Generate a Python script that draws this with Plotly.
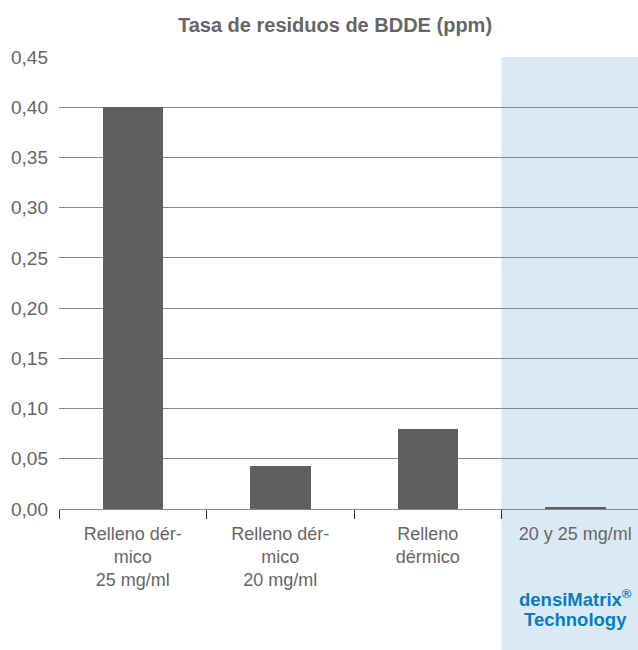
import plotly.graph_objects as go

categories = ["Relleno dér-<br>mico<br>25 mg/ml", "Relleno dér-<br>mico<br>20 mg/ml",
              "Relleno<br>dérmico", "20 y 25 mg/ml"]
values = [0.40, 0.043, 0.08, 0.002]
y_ticks = [0.0, 0.05, 0.10, 0.15, 0.20, 0.25, 0.30, 0.35, 0.40, 0.45]
title_text = "Tasa de residuos de BDDE (ppm)"
highlight_lines = ["densiMatrix<sup>®</sup>", "Technology"]

FONT = "Liberation Sans, Arial, Helvetica, sans-serif"
x_range = [-0.5, 3.425]
highlight_start = 2.5

fig = go.Figure(go.Bar(
    x=categories, y=values,
    marker=dict(color="#5f5f5f", line=dict(width=0)),
    width=0.41,
))

x0_paper = (highlight_start - x_range[0]) / (x_range[1] - x_range[0])
fig.add_shape(type="rect", xref="paper", yref="paper",
              x0=x0_paper, x1=1.2, y0=-0.5, y1=1,
              fillcolor="#dbe9f4", line=dict(width=0), layer="below")

fig.add_annotation(xref="x", yref="paper", x=3, y=-0.197, text="<b>" + highlight_lines[0] + "</b>",
                   showarrow=False, font=dict(family=FONT, size=18.5, color="#0a7cc2"), yanchor="middle")
fig.add_annotation(xref="x", yref="paper", x=3, y=-0.245, text="<b>" + highlight_lines[1] + "</b>",
                   showarrow=False, font=dict(family=FONT, size=18.5, color="#0a7cc2"), yanchor="middle")

fig.update_layout(
    width=638, height=650,
    margin=dict(l=59, r=0, t=57, b=141),
    paper_bgcolor="white", plot_bgcolor="rgba(0,0,0,0)",
    separators=",.",
    showlegend=False,
    bargap=0,
    title=dict(text="<b>" + title_text + "</b>", x=335 / 638, xref="container", xanchor="center",
               y=1 - 25 / 650, yref="container", yanchor="middle",
               font=dict(family=FONT, size=20, color="#666666")),
    font=dict(family=FONT, color="#666666"),
)
fig.update_xaxes(
    type="category", range=x_range,
    tickson="boundaries", ticks="outside", ticklen=9, tickcolor="#333333", tickwidth=1,
    showline=True, linecolor="#888888", linewidth=1, showgrid=False,
    ticklabelstandoff=8,
    tickfont=dict(family=FONT, size=18, color="#666666"), automargin=False, fixedrange=True,
)
fig.update_yaxes(
    range=[0, 0.45], tickmode="array", tickvals=y_ticks, tickformat=".2f",
    showgrid=True, gridcolor="#888888", gridwidth=1, zeroline=False, showline=False,
    ticks="", ticklabelstandoff=10,
    tickfont=dict(family=FONT, size=19, color="#666666"), automargin=False,
)

fig.write_html("out.html", config={"displayModeBar": False},
               post_script="document.body.style.margin='0';document.body.style.overflow='hidden';")
